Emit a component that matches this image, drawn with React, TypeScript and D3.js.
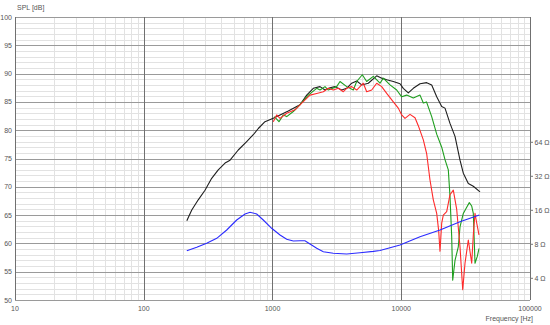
import { useEffect, useRef } from "react";
import * as d3 from "d3";

// on-axis SPL (black)
const blackFreq = [216, 236, 265, 299, 337, 379, 428, 468, 542, 630, 709, 776, 874, 1014, 1144, 1326, 1635, 1843, 2075, 2339, 2557, 2797, 3058, 3447, 3770, 4122, 4508, 4930, 5548, 6447, 7050, 7709, 8677, 9779, 10373, 11344, 12405, 13986, 15768, 17240, 18853, 20616, 21865, 23915, 26155, 28600, 30340, 33180, 36280, 40900];
const blackDb = [64.0, 65.9, 67.7, 69.4, 71.5, 73.0, 74.2, 74.7, 76.5, 78.0, 79.2, 80.3, 81.5, 82.1, 82.7, 83.4, 84.5, 86.2, 87.4, 87.7, 87.1, 87.5, 87.7, 87.1, 87.4, 88.3, 88.7, 88.0, 88.3, 89.6, 89.2, 88.9, 88.6, 88.2, 87.4, 86.6, 87.4, 88.2, 88.4, 88.0, 85.9, 84.2, 83.9, 81.2, 78.9, 74.7, 72.4, 70.6, 70.1, 69.1];

// green series
const greenFreq = [1033, 1123, 1213, 1289, 1451, 1635, 1897, 2205, 2339, 2557, 2713, 3151, 3344, 3770, 4243, 4508, 4983, 5391, 6066, 6839, 7254, 8178, 9219, 10081, 11023, 12405, 13986, 14840, 15710, 17240, 18853, 20616, 21865, 23200, 23915, 24650, 25100, 26155, 27740, 28600, 30340, 32240, 33780, 35260, 36280, 37400, 38960, 40170];
const greenDb = [82.4, 81.5, 82.7, 82.4, 83.3, 84.5, 86.2, 87.4, 87.1, 87.7, 87.1, 87.7, 88.6, 87.7, 87.1, 88.6, 89.8, 88.6, 89.5, 88.3, 89.2, 88.0, 87.1, 85.9, 86.2, 85.7, 86.2, 84.8, 85.0, 82.4, 79.3, 77.0, 74.8, 73.0, 68.3, 61.2, 53.5, 57.0, 59.4, 62.9, 65.3, 66.4, 67.2, 66.6, 65.3, 56.5, 57.7, 59.1];

// red series
const redFreq = [1014, 1078, 1144, 1289, 1496, 1686, 1956, 2205, 2481, 2713, 2967, 3244, 3548, 3770, 4122, 4508, 5072, 5391, 5895, 6447, 7050, 7709, 8677, 9487, 10081, 10693, 11695, 12790, 13565, 14840, 15768, 16720, 17740, 18853, 19500, 20000, 20616, 21210, 22540, 23915, 25370, 26960, 28600, 30020, 31270, 33180, 35260, 36280, 37400, 38550, 40170];
const redDb = [81.5, 82.7, 82.1, 83.0, 83.6, 84.8, 86.2, 86.5, 86.8, 87.4, 87.1, 87.4, 86.8, 87.4, 87.7, 87.1, 88.3, 86.8, 87.1, 88.3, 87.7, 86.5, 85.0, 83.9, 82.7, 82.1, 82.8, 82.2, 80.8, 78.3, 75.8, 71.2, 67.7, 65.3, 62.4, 58.6, 63.6, 65.0, 65.6, 68.6, 69.4, 66.0, 59.4, 51.8, 56.5, 60.6, 56.5, 61.5, 65.3, 63.6, 61.5];

// impedance (blue, right axis)
const impFreq = [216, 258, 308, 369, 441, 527, 612, 669, 754, 848, 985, 1144, 1289, 1451, 1635, 1788, 1956, 2205, 2481, 2967, 3770, 4782, 6066, 6839, 9779, 13986, 20000, 28600, 40390];
const impOhm = [7.02, 7.52, 8.17, 9.04, 10.71, 13.13, 14.84, 15.36, 14.84, 13.13, 11.09, 9.67, 8.86, 8.56, 8.61, 8.61, 8.05, 7.37, 6.88, 6.66, 6.56, 6.74, 6.93, 7.05, 7.89, 9.34, 10.71, 12.68, 14.54];

const yTicks = [50, 55, 60, 65, 70, 75, 80, 85, 90, 95, 100];
const xTicks = [10, 100, 1000, 10000, 100000];
const zTicks = [4, 8, 16, 32, 64];

export default function App() {
  const ref = useRef<SVGSVGElement | null>(null);

  useEffect(() => {
    if (!ref.current) return;
    document.body.style.margin = "0";
    const svg = d3.select(ref.current);
    svg.selectAll("*").remove();

    const x = d3.scaleLog([10, 100000], [15, 530]);
    const y = d3.scaleLinear([50, 100], [300, 17]);
    const z = d3.scaleLog([2.57, 823], [300, 17]);

    const grid = svg.append("g");
    // minor horizontal lines, every 1 dB
    grid
      .selectAll("line.hmin")
      .data(d3.range(50, 101))
      .join("line")
      .attr("x1", x(10))
      .attr("x2", x(100000))
      .attr("y1", (d) => Math.round(y(d)) + 0.5)
      .attr("y2", (d) => Math.round(y(d)) + 0.5)
      .attr("stroke", "#e2e2e2");
    // minor vertical lines
    const minors: number[] = [];
    for (let dec = 10; dec < 100000; dec *= 10)
      for (let k = 2; k < 10; k++) minors.push(dec * k);
    grid
      .selectAll("line.vmin")
      .data(minors)
      .join("line")
      .attr("x1", (d) => Math.round(x(d)) + 0.5)
      .attr("x2", (d) => Math.round(x(d)) + 0.5)
      .attr("y1", y(100))
      .attr("y2", y(50))
      .attr("stroke", "#e2e2e2");
    // major horizontal
    grid
      .selectAll("line.hmaj")
      .data(yTicks)
      .join("line")
      .attr("x1", x(10))
      .attr("x2", x(100000))
      .attr("y1", (d) => Math.round(y(d)) + 0.5)
      .attr("y2", (d) => Math.round(y(d)) + 0.5)
      .attr("stroke", "#9a9a9a");
    // major vertical
    grid
      .selectAll("line.vmaj")
      .data(xTicks)
      .join("line")
      .attr("x1", (d) => Math.round(x(d)) + 0.5)
      .attr("x2", (d) => Math.round(x(d)) + 0.5)
      .attr("y1", y(100))
      .attr("y2", y(50))
      .attr("stroke", "#707070");

    const font = "Liberation Sans, Arial, sans-serif";
    const lbl = svg.append("g").attr("font-family", font).attr("font-size", 7).attr("fill", "#555");

    lbl
      .selectAll("text.y")
      .data(yTicks)
      .join("text")
      .attr("x", 12)
      .attr("y", (d) => y(d) + 2.5)
      .attr("text-anchor", "end")
      .text((d) => d);
    lbl
      .selectAll("text.x")
      .data(xTicks)
      .join("text")
      .attr("x", (d) => x(d))
      .attr("y", 311)
      .attr("text-anchor", "middle")
      .text((d) => d);
    lbl
      .selectAll("line.zt")
      .data(zTicks)
      .join("line")
      .attr("x1", 530)
      .attr("x2", 533)
      .attr("y1", (d) => z(d))
      .attr("y2", (d) => z(d))
      .attr("stroke", "#777");
    lbl
      .selectAll("text.z")
      .data(zTicks)
      .join("text")
      .attr("x", 534.5)
      .attr("y", (d) => z(d) + 2.5)
      .text((d) => `${d} Ω`);
    lbl.append("text").attr("x", 17).attr("y", 10).text("SPL [dB]");
    lbl
      .append("text")
      .attr("x", 533)
      .attr("y", 321)
      .attr("text-anchor", "end")
      .text("Frequency [Hz]");

    const splLine = d3
      .line<[number, number]>()
      .x((d) => x(d[0]))
      .y((d) => y(d[1]));
    const impLine = d3
      .line<[number, number]>()
      .x((d) => x(d[0]))
      .y((d) => z(d[1]));

    const series: [number[], number[], string][] = [
      [blackFreq, blackDb, "#1e1e1e"],
      [greenFreq, greenDb, "#1e9e1e"],
      [redFreq, redDb, "#ff2a2a"],
    ];
    series.forEach(([f, v, c]) => {
      svg
        .append("path")
        .attr("d", splLine(f.map((d, i) => [d, v[i]] as [number, number])))
        .attr("fill", "none")
        .attr("stroke", c)
        .attr("stroke-width", 1.1)
        .attr("stroke-linejoin", "round");
    });
    svg
      .append("path")
      .attr("d", impLine(impFreq.map((d, i) => [d, impOhm[i]] as [number, number])))
      .attr("fill", "none")
      .attr("stroke", "#2b2bff")
      .attr("stroke-width", 1.1);
  }, []);

  return <svg ref={ref} width={550} height={325} style={{ display: "block", background: "#fff" }} />;
}
